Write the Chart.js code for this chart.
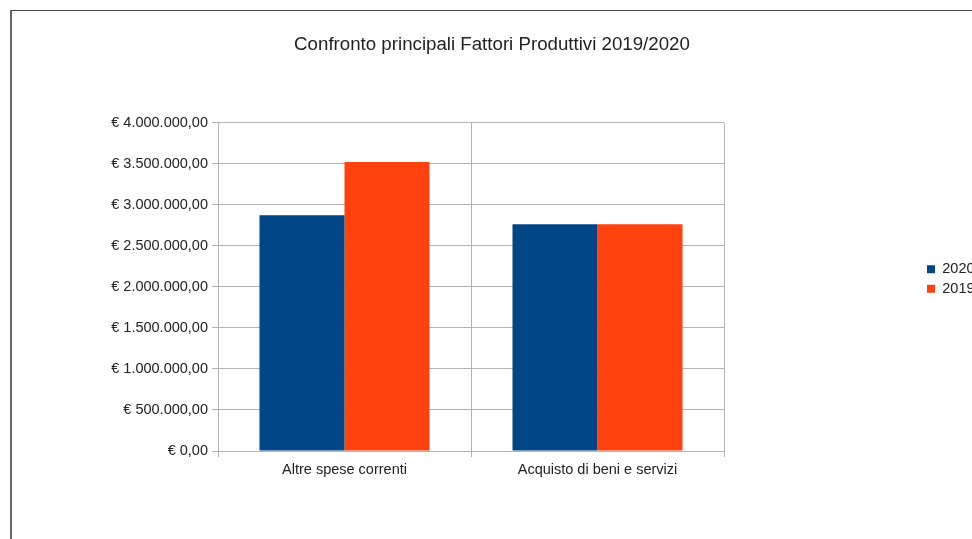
<!DOCTYPE html>
<html>
<head>
<meta charset="utf-8">
<script src="https://cdn.jsdelivr.net/npm/chart.js@4"></script>
<style>
  body { margin: 0; background: #fff; }
  #wrap { position: relative; width: 972px; height: 539px; overflow: hidden; }
  #frame { position: absolute; left: 10px; top: 10px; width: 1000px; height: 600px;
           border-top: 1px solid #444; border-left: 2px solid #666; pointer-events: none; }
</style>
</head>
<body>
<div id="wrap">
  <canvas id="main-chart" width="972" height="539"></canvas>
  <div id="frame"></div>
</div>
<script>
//data of the chart
const categories = ['Altre spese correnti', 'Acquisto di beni e servizi'];
const values_2020 = [2875000, 2765000];
const values_2019 = [3525000, 2765000];
const series_labels = ['2020', '2019'];
const y_ticks = [0, 500000, 1000000, 1500000, 2000000, 2500000, 3000000, 3500000, 4000000];

//format a number like "€ 4.000.000,00"
function euro(value) {
  const parts = Number(value).toFixed(2).split('.');
  const int = parts[0].replace(/\B(?=(\d{3})+(?!\d))/g, '.');
  return '€ ' + int + ',' + parts[1];
}

const font = { family: '"Liberation Sans", Arial, sans-serif', size: 14.5 };
const grid_color = '#b3b3b3';

//legend sits far to the right of the plot, like the original
const legendPlace = {
  id: 'legendPlace',
  beforeUpdate(chart) {
    const lg = chart.legend;
    if (lg && !lg._patched) {
      const fit = lg.fit;
      lg.fit = function () {
        fit.call(this);
        this.width = 248;
      };
      lg._patched = true;
    }
  },
  afterLayout(chart) {
    const lg = chart.legend;
    const w = 60;
    lg.left = 922;
    lg.right = lg.left + w;
    lg.top = 257;
    lg.bottom = 302;
  }
};

const main_chart = new Chart(document.getElementById('main-chart'), {
  type: 'bar',
  data: {
    labels: categories,
    datasets: [
      { label: series_labels[0], data: values_2020, backgroundColor: '#004586' },
      { label: series_labels[1], data: values_2019, backgroundColor: '#ff420e' }
    ]
  },
  options: {
    responsive: false,
    animation: false,
    layout: { padding: { left: 12, right: 0, top: 0, bottom: 0 } },
    datasets: {
      bar: { categoryPercentage: 0.672, barPercentage: 1.0 }
    },
    scales: {
      x: {
        grid: { color: grid_color, offset: true, tickLength: 6 },
        border: { color: grid_color },
        ticks: { color: '#222', font: font, padding: 4, maxRotation: 0 },
        afterFit(scale) { scale.height = 88; }
      },
      y: {
        min: 0,
        max: 4000000,
        afterBuildTicks(scale) { scale.ticks = y_ticks.map(v => ({ value: v })); },
        grid: { color: grid_color, tickLength: 6 },
        border: { color: grid_color },
        ticks: { color: '#222', font: font, padding: 4, callback: (v) => euro(v) },
        afterFit(scale) { scale.width = 206; }
      }
    },
    plugins: {
      title: {
        display: true,
        text: 'Confronto principali Fattori Produttivi 2019/2020',
        color: '#222',
        font: { family: font.family, size: 18.7, weight: 'normal' },
        padding: { top: 33.5, bottom: 67 }
      },
      legend: {
        position: 'right',
        align: 'start',
        labels: {
          color: '#222',
          font: font,
          boxWidth: 8,
          boxHeight: 8,
          padding: 5
        }
      },
      tooltip: { enabled: false }
    }
  },
  plugins: [legendPlace]
});
</script>
</body>
</html>
